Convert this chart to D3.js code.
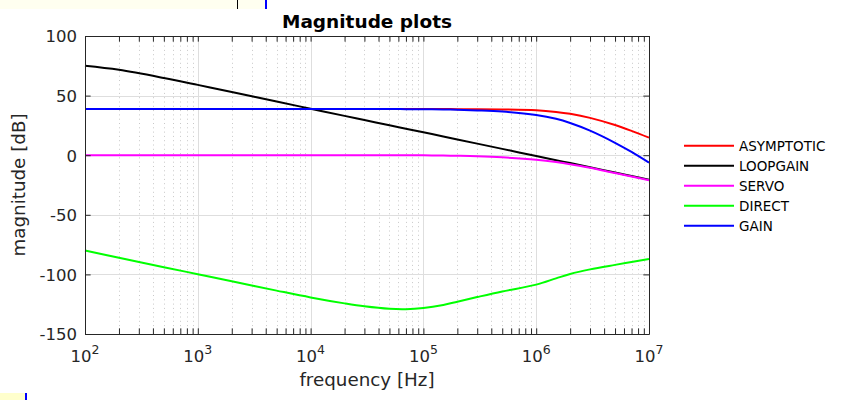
<!DOCTYPE html>
<html><head><meta charset="utf-8">
<script src="https://cdn.jsdelivr.net/npm/d3@7"></script>
<style>
body{margin:0;background:#fff}
svg{display:block}
text{font-family:"DejaVu Sans",sans-serif;fill:#262626}
</style>
</head><body>
<svg id="c" width="846" height="400"></svg>
<script>
// ---- data ----
const freq       = [1e2, 2e2, 5e2, 1e3, 2e3, 5e3, 1e4, 2e4, 3e4, 5e4, 7e4, 1e5, 1.5e5, 2e5, 3e5, 5e5, 1e6, 1.5e6, 2e6, 3e6, 5e6, 7e6, 1e7];
const asymptotic = [38.7, 38.7, 38.7, 38.7, 38.7, 38.7, 38.7, 38.7, 38.7, 38.7, 38.7, 38.7, 38.7, 38.65, 38.6, 38.4, 37.7, 36.3, 34.7, 31.3, 25.3, 20.4, 14.7];
const loopgain   = [75, 71.6, 64.8, 59, 53, 45, 39, 33, 29.5, 25.1, 22.2, 19.2, 15.7, 13.2, 9.7, 5.3, -0.7, -4.2, -6.6, -10.1, -14.5, -17.4, -20.5];
const servo      = [0, 0, 0, 0, 0, 0, 0, 0, 0, 0, 0, -0.1, -0.3, -0.5, -0.9, -1.8, -3.8, -5.7, -7.5, -10.6, -15, -17.8, -21];
const direct     = [-80, -86, -94, -99.8, -105.8, -113.6, -119.3, -124.3, -126.8, -128.9, -129.2, -128.2, -125.6, -122.9, -119, -114.3, -108.6, -103.3, -99.6, -95.8, -92, -89.6, -87];
const gain       = [38.7, 38.7, 38.7, 38.7, 38.7, 38.7, 38.7, 38.7, 38.7, 38.7, 38.65, 38.6, 38.4, 38.1, 37.6, 36.6, 33.7, 30.5, 27, 20.6, 10.4, 2.7, -6.3];
const seriesNames  = ["ASYMPTOTIC", "LOOPGAIN", "SERVO", "DIRECT", "GAIN"];
const seriesColors = ["#ff0000", "#000000", "#ff00ff", "#00ff00", "#0000ff"];
const yTicks = [-150, -100, -50, 0, 50, 100];
const xMajor = [1e2, 1e3, 1e4, 1e5, 1e6, 1e7];
const xExp   = ["2", "3", "4", "5", "6", "7"];
const titleText = "Magnitude plots";
const xLabel = "frequency [Hz]";
const yLabel = "magnitude [dB]";

const seriesValues = [asymptotic, loopgain, servo, direct, gain];
const xMinor = [];
for (let d = 2; d < 7; d++) for (let k = 2; k <= 9; k++) xMinor.push(k * Math.pow(10, d));

const svg = d3.select("#c");

// decorative strips seen at the edges of the reference
svg.append("rect").attr("x",0).attr("y",0).attr("width",265).attr("height",9).attr("fill","#fffff0");
svg.append("rect").attr("x",237).attr("y",0).attr("width",1).attr("height",9).attr("fill","#000");
svg.append("rect").attr("x",265).attr("y",0).attr("width",2).attr("height",9).attr("fill","#0000ff");
svg.append("rect").attr("x",0).attr("y",393).attr("width",25).attr("height",7).attr("fill","#ffffcc");
svg.append("rect").attr("x",25).attr("y",393).attr("width",2).attr("height",7).attr("fill","#0000ff");

const L = 85, R = 649, T = 36, B = 334;
const x = d3.scaleLog().domain([1e2, 1e7]).range([L, R]);
const y = d3.scaleLinear().domain([-150, 100]).range([B, T]);

// grid
const grid = svg.append("g");
grid.selectAll(".mg").data(xMinor).join("line")
  .attr("x1", d => Math.round(x(d)) + 0.5).attr("x2", d => Math.round(x(d)) + 0.5)
  .attr("y1", T + 1).attr("y2", B)
  .attr("stroke", "#c8c8c8").attr("stroke-width", 1).attr("stroke-dasharray", "1 3.3");
grid.selectAll(".gx").data(xMajor.slice(1, -1)).join("line")
  .attr("x1", d => Math.round(x(d)) + 0.5).attr("x2", d => Math.round(x(d)) + 0.5)
  .attr("y1", T).attr("y2", B).attr("stroke", "#dedede");
grid.selectAll(".gy").data(yTicks.slice(1, -1)).join("line")
  .attr("y1", d => Math.round(y(d)) + 0.5).attr("y2", d => Math.round(y(d)) + 0.5)
  .attr("x1", L).attr("x2", R).attr("stroke", "#dedede");

// series lines
const line = d3.line().x(d => x(d[0])).y(d => y(d[1])).curve(d3.curveCatmullRom.alpha(0.5));
seriesValues.forEach((vals, i) => {
  svg.append("path")
    .datum(freq.map((f, j) => [f, vals[j]]))
    .attr("d", line).attr("fill", "none")
    .attr("stroke", seriesColors[i]).attr("stroke-width", 2);
});

// axes
const TS = 5.65;
function styleAxis(g) {
  g.attr("font-size", null).attr("font-family", null);
  g.selectAll("path.domain").attr("stroke", "#262626");
  g.selectAll(".tick line").attr("stroke", "#262626");
}
svg.append("g").attr("transform", `translate(0,${B})`)
  .call(d3.axisBottom(x).tickValues(xMajor).tickSize(-TS).tickSizeOuter(0).tickFormat(() => "")).call(styleAxis);
svg.append("g").attr("transform", `translate(0,${B})`)
  .call(d3.axisBottom(x).tickValues(xMinor).tickSize(-TS).tickSizeOuter(0).tickFormat(() => ""))
  .call(styleAxis).call(g => g.select(".domain").remove());
svg.append("g").attr("transform", `translate(0,${T})`)
  .call(d3.axisTop(x).tickValues(xMajor).tickSize(-TS).tickSizeOuter(0).tickFormat(() => "")).call(styleAxis);
svg.append("g").attr("transform", `translate(0,${T})`)
  .call(d3.axisTop(x).tickValues(xMinor).tickSize(-TS).tickSizeOuter(0).tickFormat(() => ""))
  .call(styleAxis).call(g => g.select(".domain").remove());
const yl = svg.append("g").attr("transform", `translate(${L},0)`)
  .call(d3.axisLeft(y).tickValues(yTicks).tickSize(-TS).tickSizeOuter(0).tickPadding(8).tickFormat(d => String(d)))
  .call(styleAxis);
yl.selectAll("text").attr("font-size", "16.5px").attr("fill", "#262626").attr("dy", "0.36em");
svg.append("g").attr("transform", `translate(${R},0)`)
  .call(d3.axisRight(y).tickValues(yTicks).tickSize(-TS).tickSizeOuter(0).tickFormat(() => "")).call(styleAxis);

// x tick labels with superscripts
const xl = svg.append("g").selectAll("text").data(xMajor).join("text")
  .attr("x", d => x(d)).attr("y", 361.7).attr("text-anchor", "middle").attr("font-size", "16.5px");
xl.append("tspan").text("10");
xl.append("tspan").attr("dy", -7.4).attr("font-size", "12.5px").text((d, i) => xExp[i]);

// labels and title
svg.append("text").attr("x", (L + R) / 2).attr("y", 386).attr("text-anchor", "middle")
  .attr("font-size", "18.3px").text(xLabel);
svg.append("text").attr("transform", `translate(25,${(T + B) / 2}) rotate(-90)`).attr("text-anchor", "middle")
  .attr("font-size", "18.3px").text(yLabel);
svg.append("text").attr("x", (L + R) / 2).attr("y", 27.5).attr("text-anchor", "middle")
  .attr("font-size", "18.5px").attr("font-weight", "bold").style("fill", "#000").text(titleText);

// legend
const lg = svg.append("g");
seriesNames.forEach((n, i) => {
  const yy = 145.7 + 20 * i;
  lg.append("line").attr("x1", 684).attr("x2", 734).attr("y1", yy).attr("y2", yy)
    .attr("stroke", seriesColors[i]).attr("stroke-width", 2);
  lg.append("text").attr("x", 739).attr("y", yy).attr("dy", "0.36em")
    .attr("font-size", "13.5px").style("fill", "#000").text(n);
});
</script>
</body></html>
